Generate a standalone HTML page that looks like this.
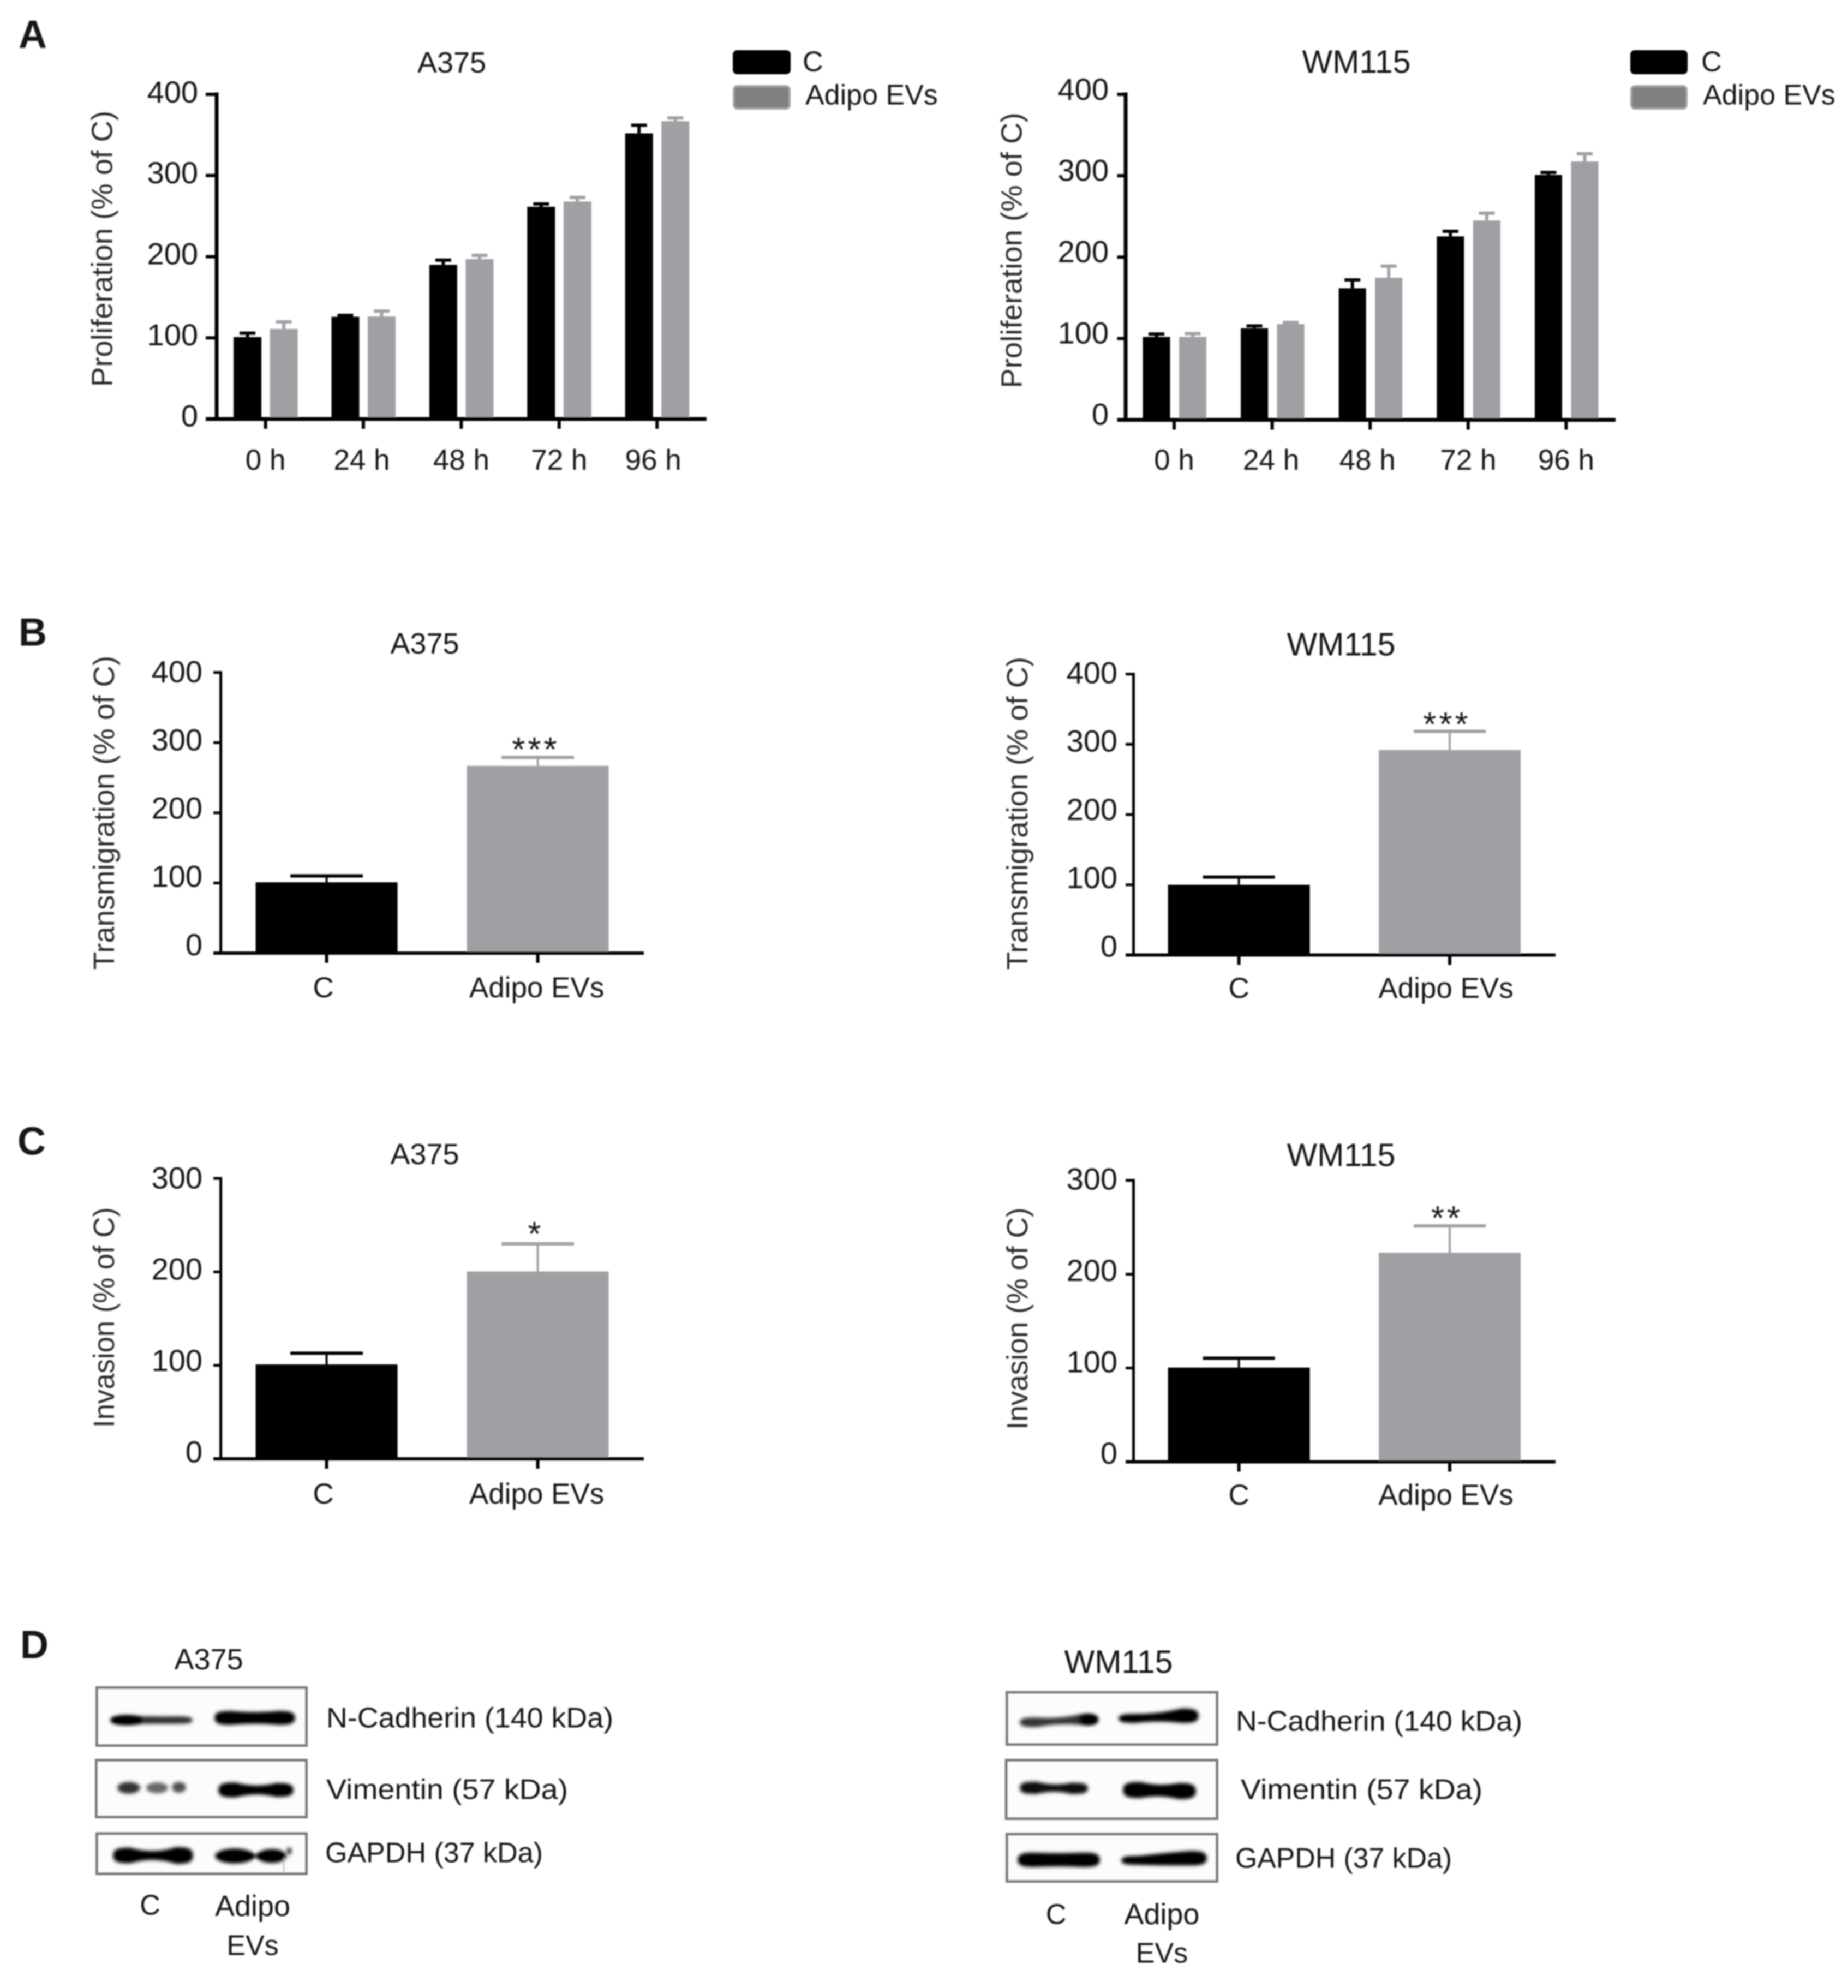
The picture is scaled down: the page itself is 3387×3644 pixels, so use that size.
<!DOCTYPE html>
<html lang="en">
<head>
<meta charset="utf-8">
<title>Adipo EVs: proliferation, transmigration, invasion and western blots</title>
<style>
html,body{margin:0;padding:0;background:#fff;}
svg{display:block;font-family:"Liberation Sans",sans-serif;}
</style>
</head>
<body>
<svg id="figure" xmlns="http://www.w3.org/2000/svg" width="3387" height="3644" viewBox="0 0 3387 3644">
<defs>
<filter id="soft" filterUnits="userSpaceOnUse" x="0" y="0" width="3387" height="3644"><feGaussianBlur stdDeviation="1.2"/></filter>
<filter id="band-blur" x="-30%" y="-150%" width="160%" height="400%"><feGaussianBlur stdDeviation="3.2"/></filter>
</defs>
<rect width="3387" height="3644" fill="#fff"/>
<g id="root" filter="url(#soft)"></g>
</svg>
<script>
// ---- data ----
const timeCategories = ['0 h', '24 h', '48 h', '72 h', '96 h'];
const groupCategories = ['C', 'Adipo EVs'];
const ticks400 = [0, 100, 200, 300, 400];
const ticks300 = [0, 100, 200, 300];

const a375ProlifControl = [101, 126, 190, 261.5, 352];
const a375ProlifControlTop = [105.8, 127.7, 195.8, 265, 362];
const a375ProlifEvs = [111, 126.4, 197, 268, 367];
const a375ProlifEvsTop = [119.7, 133, 201.7, 273, 371];

const wm115ProlifControl = [102, 112.6, 161.8, 225.5, 301];
const wm115ProlifControlTop = [105.5, 115.5, 172, 231.7, 304];
const wm115ProlifEvs = [102, 117.7, 174.7, 245, 317.6];
const wm115ProlifEvsTop = [106, 119.7, 189, 254, 327];

const a375Transmigration = [101, 267];
const a375TransmigrationTop = [110, 279];
const wm115Transmigration = [100, 292];
const wm115TransmigrationTop = [111, 318.5];

const a375Invasion = [101, 200.5];
const a375InvasionTop = [113, 230];
const wm115Invasion = [100.5, 223];
const wm115InvasionTop = [110.5, 251.5];

// ---- drawing helpers ----
const NS = 'http://www.w3.org/2000/svg';
const root = document.getElementById('root');
const BLACK = '#000000';
const GREY = '#a0a0a4';
const INK = '#141414';
const BASELINE_FACTOR = 0.30;

function make(tag, parent, name, attrs) {
  const el = document.createElementNS(NS, tag);
  
  
  for (const k in attrs) el.setAttribute(k, attrs[k]);
  parent.appendChild(el);
  return el;
}
function rect(parent, name, x, y, w, h, fill) {
  return make('rect', parent, name, {x: x, y: y, width: w, height: h, fill: fill});
}
function label(parent, name, str, x, cy, fs, anchor, weight, len) {
  const attrs = {x: x, y: cy + fs * BASELINE_FACTOR, 'font-size': fs, 'text-anchor': anchor || 'middle', fill: INK};
  if (weight) attrs['font-weight'] = weight;
  if (len) { attrs.textLength = len; attrs.lengthAdjust = 'spacingAndGlyphs'; }
  const el = make('text', parent, name, attrs);
  el.textContent = str;
  return el;
}
function verticalLabel(parent, str, x, cy, fs, len) {
  const el = make('text', parent, 'y-axis-title', {
    transform: 'translate(' + x + ',' + cy + ') rotate(-90)',
    x: 0, y: fs * 0.34, 'font-size': fs, 'text-anchor': 'middle', fill: '#2a2a2a',
    textLength: len, lengthAdjust: 'spacingAndGlyphs'
  });
  el.textContent = str;
  return el;
}

// generic bar panel: layout is geometry only, values come from the arrays passed in
function barPanel(o) {
  const g = make('g', root, o.name, {});
  const yScale = v => o.base - (v * (o.base - o.top)) / o.max;
  const xScale = i => o.x0 + i * o.step;

  // bars + error bars per series
  o.series.forEach(s => {
    s.values.forEach((v, i) => {
      const cx = xScale(i) + (s.offset !== undefined ? s.offset : 0);
      const color = s.colors ? s.colors[i] : s.color;
      const left = cx - o.barW / 2;
      rect(g, 'error-stem-' + s.key + '-' + i, cx - o.stemW / 2, yScale(s.tops[i]), o.stemW, yScale(v) - yScale(s.tops[i]), color);
      rect(g, 'error-cap-' + s.key + '-' + i, cx - o.capW / 2, yScale(s.tops[i]) - o.capH / 2, o.capW, o.capH, color);
      rect(g, 'bar-' + s.key + '-' + i, left, yScale(v), o.barW, o.base - yScale(v), color);
    });
  });

  // axes
  rect(g, 'y-axis-line', o.axisX - o.axisT / 2, o.top - o.axisT / 2, o.axisT, o.base - o.top + o.axisT, BLACK);
  rect(g, 'x-axis-line', o.xStart, o.base - o.axisH / 2, o.xEnd - o.xStart, o.axisH, BLACK);

  o.ticks.forEach(t => {
    const y = yScale(t);
    if (t > 0) rect(g, 'y-tick-' + t, o.xStart, y - o.axisH / 2 + 0.5, o.axisX - o.xStart, o.axisH - 1, BLACK);
    const shift = o.shiftBottom + (o.shiftTop - o.shiftBottom) * (t / o.max);
    label(g, 'y-tick-label-' + t, String(t), o.tickRight, y + shift, o.tickFs, 'end');
  });
  o.categories.forEach((c, i) => {
    rect(g, 'x-tick-' + i, xScale(i) - 3, o.base, 6, 18, BLACK);
    label(g, 'x-tick-label-' + i, c, xScale(i) + (o.catShifts ? o.catShifts[i] : 0), o.catY, o.catFs, 'middle');
  });

  label(g, 'chart-title', o.title, o.titleX, o.titleY, o.titleFs, 'middle');
  verticalLabel(g, o.yTitle, o.yTitleX, o.yTitleY, 54, o.yTitleLen);
  if (o.stars) {
    const st = label(g, 'significance-marker', o.stars, o.starX, o.starY + o.starFs * (0.5 - BASELINE_FACTOR), o.starFs, 'middle');
    st.setAttribute('letter-spacing', '5');
  }
  return g;
}

// ---- panel A ----
barPanel({
  name: 'panel-a-a375-proliferation', title: 'A375', titleX: 828, titleY: 117, titleFs: 54,
  yTitle: 'Proliferation (% of C)', yTitleX: 187, yTitleY: 456, yTitleLen: 506,
  categories: timeCategories, ticks: ticks400, max: 400, top: 173, base: 768,
  x0: 486.6, step: 179.4, barW: 51, capW: 29, capH: 6, stemW: 6,
  axisX: 397, axisT: 7, axisH: 7, xStart: 377, xEnd: 1295,
  tickRight: 363, tickFs: 56, shiftTop: -2, shiftBottom: -3.5, catY: 845, catFs: 53,
  catShifts: [0, -3, 0, 0, -7],
  series: [
    {key: 'control', values: a375ProlifControl, tops: a375ProlifControlTop, color: BLACK, offset: -33},
    {key: 'adipo-evs', values: a375ProlifEvs, tops: a375ProlifEvsTop, color: GREY, offset: 33.5}
  ]
});
barPanel({
  name: 'panel-a-wm115-proliferation', title: 'WM115', titleX: 2486, titleY: 116, titleFs: 59,
  yTitle: 'Proliferation (% of C)', yTitleX: 1854, yTitleY: 459, yTitleLen: 505,
  categories: timeCategories, ticks: ticks400, max: 400, top: 173, base: 769.6,
  x0: 2152, step: 179.6, barW: 50, capW: 29, capH: 6, stemW: 6,
  axisX: 2063, axisT: 7, axisH: 7, xStart: 2047.5, xEnd: 2961,
  tickRight: 2032, tickFs: 56, shiftTop: -7, shiftBottom: -8, catY: 845, catFs: 53,
  catShifts: [0, -2, -5, 0, 0],
  series: [
    {key: 'control', values: wm115ProlifControl, tops: wm115ProlifControlTop, color: BLACK, offset: -32.5},
    {key: 'adipo-evs', values: wm115ProlifEvs, tops: wm115ProlifEvsTop, color: GREY, offset: 34}
  ]
});

// legends
function legend(name, swatchX, swatchW, textCX, textAX) {
  const g = make('g', root, name, {});
  make('rect', g, 'legend-swatch-c', {x: swatchX, y: 92, width: swatchW, height: 44, rx: 8, fill: BLACK});
  make('rect', g, 'legend-swatch-adipo-evs', {x: swatchX + 2, y: 158, width: swatchW - 4, height: 41, rx: 7, fill: '#808080', stroke: '#a3a3a6', 'stroke-width': 4});
  label(g, 'legend-label-c', 'C', textCX, 115, 52, 'start');
  label(g, 'legend-label-adipo-evs', 'Adipo EVs', textAX, 176, 52, 'start');
}
legend('legend-a375', 1343, 106, 1471, 1476);
legend('legend-wm115', 2988, 105, 3118, 3121);

// ---- panel B ----
barPanel({
  name: 'panel-b-a375-transmigration', title: 'A375', titleX: 778.5, titleY: 1182, titleFs: 54,
  yTitle: 'Transmigration (% of C)', yTitleX: 190.7, yTitleY: 1490, yTitleLen: 576,
  categories: groupCategories, ticks: ticks400, max: 400, top: 1232.7, base: 1747,
  x0: 598.6, step: 387, barW: 260, capW: 133, capH: 6, stemW: 4,
  axisX: 404.6, axisT: 5, axisH: 6, xStart: 391, xEnd: 1180,
  tickRight: 371, tickFs: 56, shiftTop: 1, shiftBottom: -13, catY: 1812, catFs: 53,
  catShifts: [-6, -2],
  stars: '***', starX: 982, starY: 1364, starFs: 62,
  series: [{key: 'transmigration', values: a375Transmigration, tops: a375TransmigrationTop, colors: [BLACK, GREY]}]
});
barPanel({
  name: 'panel-b-wm115-transmigration', title: 'WM115', titleX: 2458, titleY: 1184, titleFs: 59,
  yTitle: 'Transmigration (% of C)', yTitleX: 1864.4, yTitleY: 1491, yTitleLen: 574,
  categories: groupCategories, ticks: ticks400, max: 400, top: 1235.7, base: 1750.5,
  x0: 2270.6, step: 386.4, barW: 260, capW: 132, capH: 6, stemW: 4,
  axisX: 2077.5, axisT: 5, axisH: 6, xStart: 2063, xEnd: 2851,
  tickRight: 2048, tickFs: 56, shiftTop: 0, shiftBottom: -14, catY: 1813, catFs: 53,
  catShifts: [0, -7],
  stars: '***', starX: 2652, starY: 1318, starFs: 62,
  series: [{key: 'transmigration', values: wm115Transmigration, tops: wm115TransmigrationTop, colors: [BLACK, GREY]}]
});

// ---- panel C ----
barPanel({
  name: 'panel-c-a375-invasion', title: 'A375', titleX: 778.5, titleY: 2118, titleFs: 54,
  yTitle: 'Invasion (% of C)', yTitleX: 190.7, yTitleY: 2415, yTitleLen: 404,
  categories: groupCategories, ticks: ticks300, max: 300, top: 2160, base: 2674,
  x0: 598.6, step: 387, barW: 260, capW: 133, capH: 6, stemW: 4,
  axisX: 404.6, axisT: 5, axisH: 6, xStart: 391, xEnd: 1180,
  tickRight: 371, tickFs: 56, shiftTop: 1.6, shiftBottom: -10.5, catY: 2740, catFs: 53,
  catShifts: [-6, -2],
  stars: '*', starX: 982, starY: 2252, starFs: 62,
  series: [{key: 'invasion', values: a375Invasion, tops: a375InvasionTop, colors: [BLACK, GREY]}]
});
barPanel({
  name: 'panel-c-wm115-invasion', title: 'WM115', titleX: 2458, titleY: 2120, titleFs: 59,
  yTitle: 'Invasion (% of C)', yTitleX: 1864.4, yTitleY: 2417, yTitleLen: 407,
  categories: groupCategories, ticks: ticks300, max: 300, top: 2163.7, base: 2679.5,
  x0: 2270.6, step: 386.4, barW: 260, capW: 132, capH: 6, stemW: 4,
  axisX: 2077.5, axisT: 5, axisH: 6, xStart: 2063, xEnd: 2851,
  tickRight: 2048, tickFs: 56, shiftTop: 0, shiftBottom: -13.5, catY: 2742, catFs: 53,
  catShifts: [0, -7],
  stars: '**', starX: 2652, starY: 2223, starFs: 62,
  series: [{key: 'invasion', values: wm115Invasion, tops: wm115InvasionTop, colors: [BLACK, GREY]}]
});

// ---- panel letters ----
label(root, 'panel-letter-a', 'A', 60, 66, 72, 'middle', 'bold');
label(root, 'panel-letter-b', 'B', 60, 1162, 72, 'middle', 'bold');
label(root, 'panel-letter-c', 'C', 58, 2095, 72, 'middle', 'bold');
label(root, 'panel-letter-d', 'D', 63, 3018, 72, 'middle', 'bold');

// ---- panel D: western blots ----
function blotBox(parent, name, x, y, w, h) {
  make('rect', parent, name, {x: x + 2.5, y: y + 2.5, width: w - 5, height: h - 5, fill: '#fcfcfc', stroke: '#7a7a7a', 'stroke-width': 5});
}
// a smeared band from x0 to x1: thickness hL at the left shoulder, hM at the middle, hR at the right shoulder
function band(parent, name, x0, x1, yL, yR, hL, hM, hR, color) {
  const xm = (x0 + x1) / 2, ym = (yL + yR) / 2;
  const ctrl = hM - (hL + hR) / 4;
  const sh = Math.min(32, (x1 - x0) / 4);
  const d = 'M' + x0 + ' ' + yL +
    ' C' + x0 + ' ' + (yL - hL / 2) + ' ' + (x0 + sh * 0.5) + ' ' + (yL - hL / 2) + ' ' + (x0 + sh) + ' ' + (yL - hL / 2) +
    ' Q' + xm + ' ' + (ym - ctrl) + ' ' + (x1 - sh) + ' ' + (yR - hR / 2) +
    ' C' + (x1 - sh * 0.5) + ' ' + (yR - hR / 2) + ' ' + x1 + ' ' + (yR - hR / 2) + ' ' + x1 + ' ' + yR +
    ' C' + x1 + ' ' + (yR + hR / 2) + ' ' + (x1 - sh * 0.5) + ' ' + (yR + hR / 2) + ' ' + (x1 - sh) + ' ' + (yR + hR / 2) +
    ' Q' + xm + ' ' + (ym + ctrl) + ' ' + (x0 + sh) + ' ' + (yL + hL / 2) +
    ' C' + (x0 + sh * 0.5) + ' ' + (yL + hL / 2) + ' ' + x0 + ' ' + (yL + hL / 2) + ' ' + x0 + ' ' + yL + ' Z';
  make('path', parent, name, {d: d, fill: color || '#000', filter: 'url(#band-blur)'});
}
function lobe(parent, name, cx, cy, rx, ry, color) {
  make('ellipse', parent, name, {cx: cx, cy: cy, rx: rx, ry: ry, fill: color, filter: 'url(#band-blur)'});
}

const blotA = make('g', root, 'panel-d-a375-blots', {});
label(blotA, 'blot-title', 'A375', 382.6, 3044, 54, 'middle');
blotBox(blotA, 'blot-frame-n-cadherin', 175, 3091, 389, 111);
blotBox(blotA, 'blot-frame-vimentin', 174, 3224, 390, 109);
blotBox(blotA, 'blot-frame-gapdh', 175, 3358.5, 389, 78.5);
band(blotA, 'band-n-cadherin-c', 203, 353, 3153, 3153, 15, 14, 14, '#333333');
lobe(blotA, 'band-n-cadherin-c-dark-lobe', 232, 3153, 29, 9, '#000');
band(blotA, 'band-n-cadherin-evs', 393, 541, 3149, 3149, 26, 22, 26, '#000');
lobe(blotA, 'band-vimentin-c-lobe-1', 236, 3277, 21, 11, '#303030');
lobe(blotA, 'band-vimentin-c-lobe-2', 288, 3277, 20, 10, '#666666');
lobe(blotA, 'band-vimentin-c-lobe-3', 328, 3276, 13, 10, '#505050');
band(blotA, 'band-vimentin-evs', 400, 538, 3281, 3281, 28, 17, 26, '#000');
band(blotA, 'band-gapdh-c', 207, 354, 3401, 3401, 29, 17, 31, '#000');
lobe(blotA, 'band-gapdh-evs-left', 430, 3402, 36, 14, '#000');
lobe(blotA, 'band-gapdh-evs-right', 498, 3402, 27, 13, '#000');
band(blotA, 'band-gapdh-evs-link', 455, 480, 3402, 3402, 9, 4, 9, '#000');
lobe(blotA, 'band-gapdh-evs-blob', 530, 3393, 5, 7, '#444');
make('rect', blotA, 'band-gapdh-evs-streak', {x: 519, y: 3405, width: 2, height: 26, fill: '#aaa'});
label(blotA, 'blot-label-n-cadherin', 'N-Cadherin (140 kDa)', 598, 3151, 52, 'start', null, 526);
label(blotA, 'blot-label-vimentin', 'Vimentin (57 kDa)', 598, 3282, 52, 'start', null, 443);
label(blotA, 'blot-label-gapdh', 'GAPDH (37 kDa)', 596, 3398, 52, 'start', null, 399);
label(blotA, 'lane-label-c', 'C', 275, 3494, 52, 'middle');
label(blotA, 'lane-label-adipo', 'Adipo', 463, 3496, 54, 'middle');
label(blotA, 'lane-label-evs', 'EVs', 463, 3568, 52, 'middle');

const blotW = make('g', root, 'panel-d-wm115-blots', {});
label(blotW, 'blot-title', 'WM115', 2050, 3049, 59, 'middle');
blotBox(blotW, 'blot-frame-n-cadherin', 1843, 3099.6, 390, 100.4);
blotBox(blotW, 'blot-frame-vimentin', 1841.7, 3224, 391.3, 112);
blotBox(blotW, 'blot-frame-gapdh', 1843, 3359.4, 390, 91.6);
band(blotW, 'band-n-cadherin-c', 1869, 2013, 3157, 3152, 18, 13, 20, '#343434');
lobe(blotW, 'band-n-cadherin-c-dark-lobe', 1995, 3152, 17, 10, '#000');
band(blotW, 'band-n-cadherin-evs', 2050, 2197, 3150, 3145, 17, 17, 27, '#000');
band(blotW, 'band-vimentin-c', 1869, 1994, 3277, 3278, 23, 14, 21, '#0a0a0a');
band(blotW, 'band-vimentin-evs', 2058, 2192, 3281, 3283, 30, 22, 30, '#000');
band(blotW, 'band-gapdh-c', 1865, 2016, 3409, 3409, 27, 25, 27, '#000');
band(blotW, 'band-gapdh-evs', 2055, 2212, 3410, 3406, 17, 23, 27, '#000');
label(blotW, 'blot-label-n-cadherin', 'N-Cadherin (140 kDa)', 2265, 3157, 52, 'start', null, 525);
label(blotW, 'blot-label-vimentin', 'Vimentin (57 kDa)', 2274, 3282, 52, 'start', null, 443);
label(blotW, 'blot-label-gapdh', 'GAPDH (37 kDa)', 2264, 3408, 52, 'start', null, 397);
label(blotW, 'lane-label-c', 'C', 1935.7, 3511, 52, 'middle');
label(blotW, 'lane-label-adipo', 'Adipo', 2129.4, 3511, 54, 'middle');
label(blotW, 'lane-label-evs', 'EVs', 2129.4, 3582, 52, 'middle');
</script>
</body>
</html>
